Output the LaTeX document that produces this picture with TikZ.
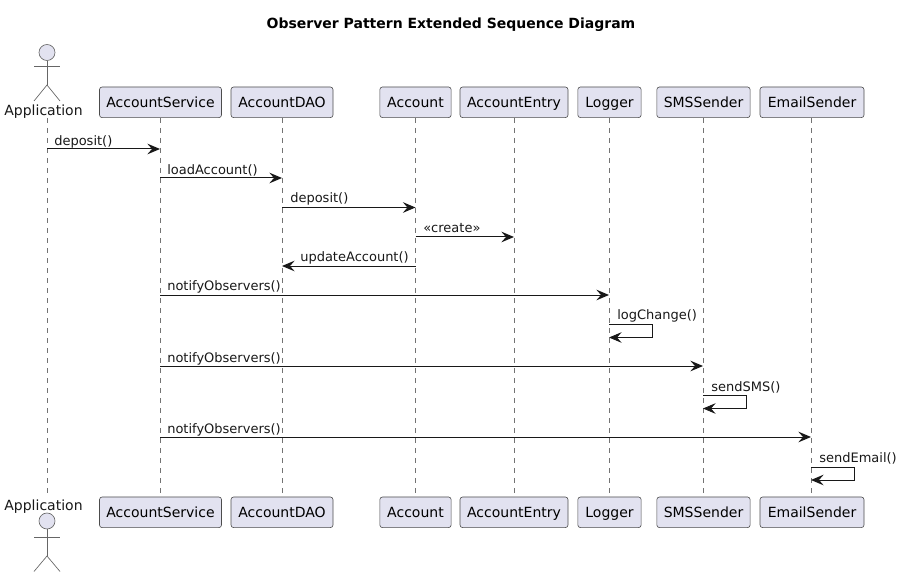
\documentclass[tikz,border=0pt]{standalone}
\usepackage{fontspec}
\usepackage{xcolor}
\usetikzlibrary{arrows.meta}
\setmainfont{DejaVu Sans}
\definecolor{partfill}{HTML}{E2E2F0}
\definecolor{partline}{HTML}{181818}
\tikzset{
  part/.style={draw=black!70, fill=partfill, line width=0.45pt, rounded corners=2pt,
    minimum height=23pt, inner xsep=0pt, text height=8.8pt, text depth=1.4pt,
    font=\fontsize{10.5}{12}\selectfont},
  lifeline/.style={draw=black!55, line width=0.6pt, dash pattern=on 3.75pt off 3.75pt},
  msg/.style={draw=partline, line width=0.75pt,
    -{Stealth[length=9.5pt, width=8pt, inset=3.5pt]}},
  msgtext/.style={anchor=base west, inner sep=0pt, text=partline,
    font=\fontsize{9.75}{12}\selectfont},
  actorline/.style={draw=black!60, line width=0.5pt},
  actorhead/.style={actorline, fill=partfill, circle, inner sep=0pt, minimum size=12pt},
  actortext/.style={inner sep=0pt, text=partline, font=\fontsize{10.5}{12}\selectfont}
}
\begin{document}
\begin{tikzpicture}[x=0.75pt, y=-0.75pt]
      \useasboundingbox (0, 0) rectangle (902, 577);
      \node[font=\bfseries\fontsize{10.5}{12}\selectfont] (title) at (451, 24.5)
          {Observer Pattern Extended Sequence Diagram};
      % one point per lifeline and message row
      \foreach \name/\x in {app/47, svc/160, dao/282, acc/415.5, ent/514, log/609, sms/703, eml/811}
        \foreach \row/\y in {1/149, 2/178, 3/207.5, 4/237, 5/266, 6/295, 7/324, 8/337.5,
                             9/366, 10/395, 11/408.5, 12/437, 13/467, 14/480}
          \coordinate (\name-\row) at (\x, \y);
      \coordinate (app-top) at (47, 118);
      \coordinate (app-bot) at (47, 494);
      % lifelines
      \draw[lifeline] (app-top) -- (app-bot);
      \draw[lifeline] (svc-1 |- app-top) -- (svc-1 |- app-bot);
      \draw[lifeline] (dao-1 |- app-top) -- (dao-1 |- app-bot);
      \draw[lifeline] (acc-1 |- app-top) -- (acc-1 |- app-bot);
      \draw[lifeline] (ent-1 |- app-top) -- (ent-1 |- app-bot);
      \draw[lifeline] (log-1 |- app-top) -- (log-1 |- app-bot);
      \draw[lifeline] (sms-1 |- app-top) -- (sms-1 |- app-bot);
      \draw[lifeline] (eml-1 |- app-top) -- (eml-1 |- app-bot);
      % top row
      \node[part, minimum width=91.5pt] (svc)  at (160.5, 102.3) {AccountService};
      \node[part, minimum width=76.5pt] (dao)  at (282, 102.3)   {AccountDAO};
      \node[part, minimum width=53.5pt] (acc)  at (415.5, 102.3) {Account};
      \node[part, minimum width=81pt]   (ent)  at (514, 102.3)   {AccountEntry};
      \node[part, minimum width=47.5pt] (log)  at (609.5, 102.3) {Logger};
      \node[part, minimum width=70pt]   (sms)  at (703.5, 102.3) {SMSSender};
      \node[part, minimum width=78pt]   (eml)  at (812, 102.3)   {EmailSender};
      % bottom row
      \node[part, minimum width=91.5pt] (svcb) at (160.5, 512.3) {AccountService};
      \node[part, minimum width=76.5pt] (daob) at (282, 512.3)   {AccountDAO};
      \node[part, minimum width=53.5pt] (accb) at (415.5, 512.3) {Account};
      \node[part, minimum width=81pt]   (entb) at (514, 512.3)   {AccountEntry};
      \node[part, minimum width=47.5pt] (logb) at (609.5, 512.3) {Logger};
      \node[part, minimum width=70pt]   (smsb) at (703.5, 512.3) {SMSSender};
      \node[part, minimum width=78pt]   (emlb) at (812, 512.3)   {EmailSender};
      % actor, top
      \node[actortext] (apptext) at (43.5, 111.5) {Application};
      \node[actorhead] (head) at (47, 52.5) {};
      \coordinate (hip) at (47, 85);
      \draw[actorline] (head) -- (hip);
      \draw[actorline] (34, 66) -- (60, 66);
      \draw[actorline] (34, 101) -- (hip) -- (60, 101);
      % actor, bottom
      \node[actortext] (apptextb) at (43.5, 506.5) {Application};
      \node[actorhead] (headb) at (47, 521) {};
      \coordinate (hipb) at (47, 556);
      \draw[actorline] (headb) -- (hipb);
      \draw[actorline] (34, 537) -- (60, 537);
      \draw[actorline] (34, 571.5) -- (hipb) -- (60, 571.5);
      % messages
      \draw[msg] (app-1) -- (svc-1);
      \draw[msg] (svc-2) -- (dao-2);
      \draw[msg] (dao-3) -- (acc-3);
      \draw[msg] (acc-4) -- (ent-4);
      \draw[msg] (acc-5) -- (dao-5);
      \draw[msg] (svc-6) -- (log-6);
      \draw[msg] (log-7) -- ++(43, 0) |- (log-8);
      \draw[msg] (svc-9) -- (sms-9);
      \draw[msg] (sms-10) -- ++(43, 0) |- (sms-11);
      \draw[msg] (svc-12) -- (eml-12);
      \draw[msg] (eml-13) -- ++(43, 0) |- (eml-14);
      % message labels
      \node[msgtext] (l1)  at (54, 145.5)  {deposit()};
      \node[msgtext] (l2)  at (167, 174.5) {loadAccount()};
      \node[msgtext] (l3)  at (290, 203)   {deposit()};
      \node[msgtext] (l4)  at (423, 232.5) {«create»};
      \node[msgtext] (l5)  at (300, 262)   {updateAccount()};
      \node[msgtext] (l6)  at (167, 290.5) {notifyObservers()};
      \node[msgtext] (l7)  at (617, 319.5) {logChange()};
      \node[msgtext] (l8)  at (167, 362)   {notifyObservers()};
      \node[msgtext] (l9)  at (711, 391)   {sendSMS()};
      \node[msgtext] (l10) at (167, 433)   {notifyObservers()};
      \node[msgtext] (l11) at (819, 462.5) {sendEmail()};
\end{tikzpicture}
\end{document}
